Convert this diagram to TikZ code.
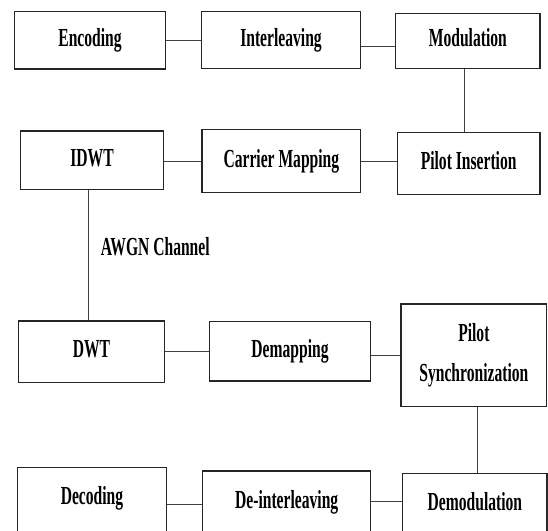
\documentclass[tikz,border=0pt]{standalone}
\usepackage{fontspec}
\setmainfont{Liberation Serif}[FakeStretch=0.6]
\begin{document}
\begin{tikzpicture}[x=1pt,y=-1pt,
  block/.style={draw=black!85, line width=1.2pt, inner sep=0pt, text height=17.6pt, text depth=5.6pt, font=\bfseries\fontsize{26}{40}\selectfont},
  lowblock/.style={block, minimum height=80pt, text depth=22.4pt},
  link/.style={draw=black!75, line width=1pt}]
\clip (0,0) rectangle (548,530);

\node[block, minimum width=151.4pt, minimum height=57.3pt] (enc) at (90,40.35) {Encoding};
\node[block, minimum width=159.4pt, minimum height=56.6pt] (intl) at (281,40) {Interleaving};
\node[block, minimum width=144.3pt, minimum height=55pt] (mod) at (467.85,40.8) {Modulation};
\node[block, minimum width=142.7pt, minimum height=61.6pt] (pins) at (468.65,163.5) {Pilot Insertion};
\node[block, minimum width=158.7pt, minimum height=63.4pt] (cmap) at (281.35,161) {Carrier Mapping};
\node[block, minimum width=142.6pt, minimum height=58.3pt] (idwt) at (92,160.15) {IDWT};
\node[block, minimum width=145.6pt, minimum height=61.3pt] (dwt) at (91.5,351.65) {DWT};
\node[block, minimum width=161.4pt, minimum height=59.3pt] (demap) at (290,351.35) {Demapping};
\node[block, text height=, text depth=, align=center, minimum width=145.7pt, minimum height=102.7pt] (psync) at (473.85,355.35) {Pilot\\Synchronization};
\node[lowblock, minimum width=144.2pt] (demod) at (474.9,513.3) {Demodulation};
\node[lowblock, minimum width=168pt] (deint) at (286.7,511) {De-interleaving};
\node[lowblock, minimum width=148.6pt] (dec) at (92,507.3) {Decoding};

\node[anchor=base west, inner sep=0pt, font=\bfseries\fontsize{26}{40}\selectfont] (awgn) at (100.7,255) {AWGN Channel};

\path[link] (enc.east) -- (enc.east -| intl.west);
\path[link] ([yshift=-6.5pt]intl.east) -- ([yshift=-6.5pt]intl.east -| mod.west);
\path[link] ([xshift=-3.2pt]mod.south) -- ([xshift=-3.2pt]mod.south |- pins.north);
\path[link] (cmap.east) -- (cmap.east -| pins.west);
\path[link] (cmap.west -| idwt.east) -- (cmap.west);
\path[link] ([xshift=-3.5pt]idwt.south) -- ([xshift=-3.5pt]idwt.south |- dwt.north);
\path[link] (dwt.east) -- (dwt.east -| demap.west);
\path[link] (psync.west -| demap.east) -- (psync.west);
\path[link] ([xshift=3.5pt]psync.south) -- ([xshift=3.5pt]psync.south |- demod.north);
\path[link] ([yshift=11.6pt]demod.west) -- ([yshift=11.6pt]demod.west -| deint.east);
\path[link] ([yshift=3.3pt]dec.east) -- ([yshift=3.3pt]dec.east -| deint.west);
\end{tikzpicture}
\end{document}
